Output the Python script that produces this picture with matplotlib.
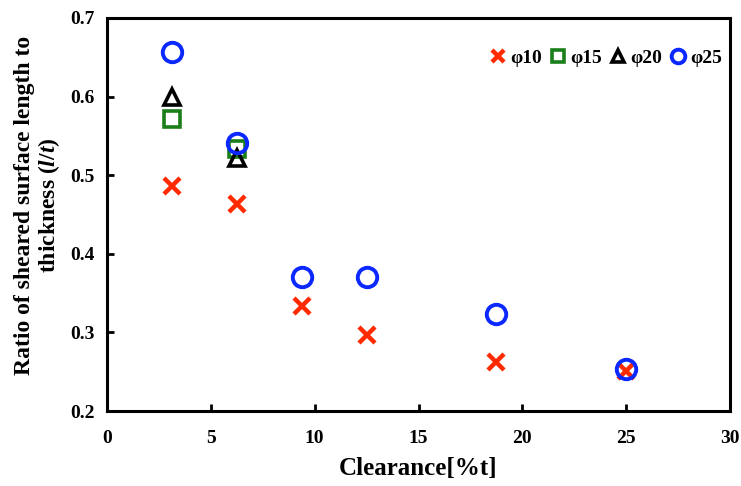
import numpy as np
import matplotlib.pyplot as plt

plt.rcParams['font.family'] = 'Liberation Serif'
plt.rcParams['font.weight'] = 'bold'
plt.rcParams['mathtext.fontset'] = 'custom'
plt.rcParams['mathtext.rm'] = 'Liberation Serif'
plt.rcParams['mathtext.it'] = 'Liberation Serif:italic'

# clearance [%t]
x10 = [3.125, 6.25, 9.375, 12.5, 18.75, 25]
y10 = [0.486, 0.463, 0.334, 0.297, 0.262, 0.251]
x15 = [3.125, 6.25]
y15 = [0.572, 0.533]
x20 = [3.125, 6.25]
y20 = [0.600, 0.522]
x25 = [3.125, 6.25, 9.375, 12.5, 18.75, 25]
y25 = [0.657, 0.541, 0.370, 0.370, 0.323, 0.253]

fig = plt.figure(figsize=(7.41, 4.86), dpi=100)
ax = fig.add_axes([0.1444, 0.1543, 0.8408, 0.8087])

ax.plot(x10, y10, 'x', color='#ff2a00', ms=12, mew=3.2, label='φ10', zorder=3)
ax.plot(x15, y15, 's', color='#1a7f1a', mfc='none', ms=12, mew=2.6, label='φ15', zorder=2)
ax.plot(x20, y20, '^', color='black', mfc='none', ms=12, mew=2.6, label='φ20', zorder=2)
ax.plot(x25, y25, 'o', color='#0a28ff', mfc='none', ms=14, mew=2.8, label='φ25', zorder=4)

ax.set_xlim(0, 30)
ax.set_ylim(0.2, 0.7)
ax.set_xticks(np.arange(0, 31, 5))
ax.set_yticks(np.arange(0.2, 0.71, 0.1))
ax.set_yticklabels(['0.2', '0.3', '0.4', '0.5', '0.6', '0.7'])
ax.tick_params(direction='in', length=5, width=2, labelsize=14)
ax.tick_params(axis='x', pad=14)
ax.tick_params(axis='y', pad=9)
for s in ax.spines.values():
    s.set_linewidth(2.2)

ax.set_xlabel('Clearance[%t]', fontsize=18, fontweight='bold', labelpad=7)
ax.set_ylabel('Ratio of sheared surface length to\nthickness $(l/t)$', fontsize=17,
              fontweight='bold', linespacing=1.05)
ax.yaxis.set_label_coords(-0.072, 0.524)

leg = ax.legend(loc='upper right', ncol=4, frameon=False, fontsize=14,
                handletextpad=0.0, columnspacing=0.25, handlelength=1.2,
                markerscale=0.7, bbox_to_anchor=(1.015, 0.965))

fig.savefig('out.png', dpi=100)
